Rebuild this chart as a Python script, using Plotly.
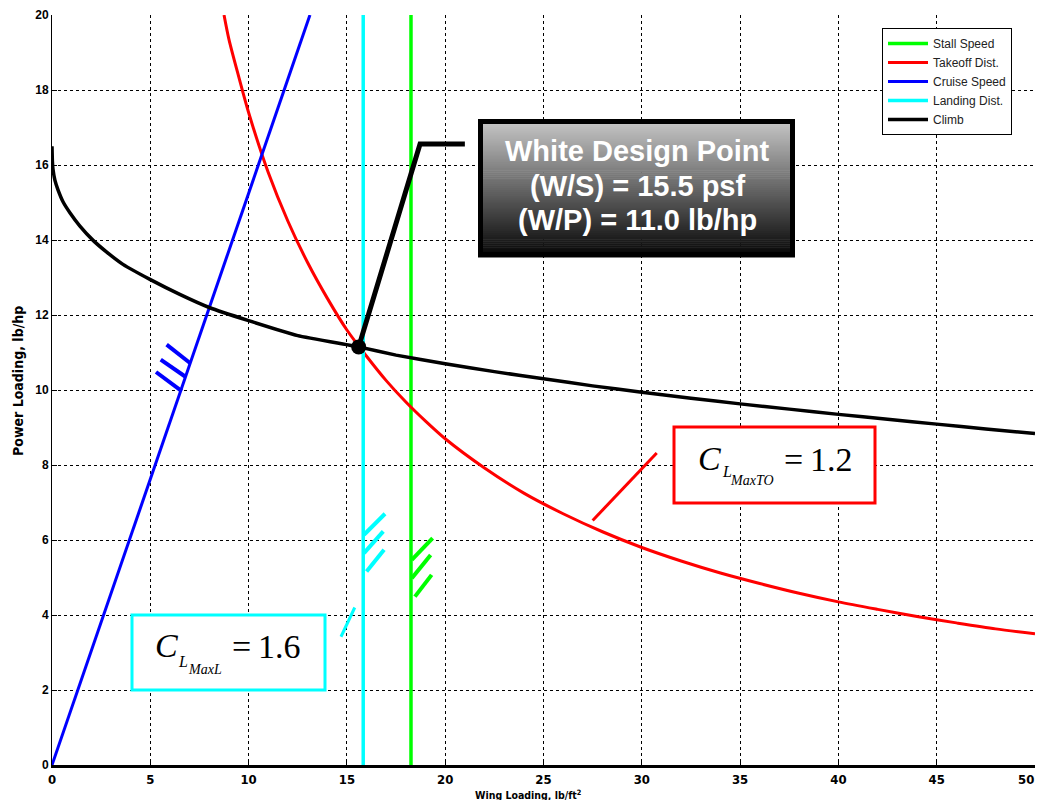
import plotly.graph_objects as go

# ---------------- data ----------------
stall_x = [18.26, 18.26]
stall_y = [0, 20]

takeoff_x = [8.75, 9, 9.5, 10, 11, 12, 13, 14, 15, 16, 17, 18, 19, 20, 22, 24, 26, 28, 30,
             32, 34, 36, 38, 40, 42, 44, 46, 48, 50]
takeoff_y = [20, 19.35, 18.35, 17.4, 15.8, 14.5, 13.4, 12.45, 11.6, 10.9, 10.25, 9.68, 9.17,
             8.7, 7.92, 7.25, 6.7, 6.22, 5.8, 5.44, 5.12, 4.84, 4.58, 4.35, 4.15, 3.96, 3.79,
             3.63, 3.5]

cruise_x = [0, 13.12]
cruise_y = [0, 20]

landing_x = [15.83, 15.83]
landing_y = [0, 20]

climb_x = [0, 0.02, 0.05, 0.15, 0.31, 0.56, 0.92, 1.42, 2.09, 2.8, 3.61, 4.98, 6.5, 8, 10,
           12.5, 15.6, 17.5, 20, 22.5, 25, 27.5, 30, 32.5, 35, 37.5, 40, 42.5, 45, 47.5, 50]
climb_y = [16.5, 16.1, 15.89, 15.59, 15.33, 15.02, 14.72, 14.37, 13.99, 13.67, 13.35, 12.95,
           12.55, 12.2, 11.85, 11.45, 11.15, 10.93, 10.7, 10.49, 10.3, 10.11, 9.94, 9.78, 9.63,
           9.49, 9.35, 9.22, 9.09, 8.96, 8.84]

design_x = [15.6]
design_y = [11.15]

x_ticks = [0, 5, 10, 15, 20, 25, 30, 35, 40, 45, 50]
y_ticks = [0, 2, 4, 6, 8, 10, 12, 14, 16, 18, 20]

# ---------------- layout geometry (page pixels) ----------------
OFF = 8                       # default body margin of the html page
W, H = 1044 - OFF, 808 - 2 * OFF
PL, PR, PT, PB = 52, 1035, 15, 765   # plot area in page pixels
PW, PH = PR - PL, PB - PT


def px(xp):
    return (xp - PL) / PW


def py(yp):
    return (PB - yp) / PH


GREEN = "#00ff00"
RED = "#ff0000"
BLUE = "#0000ff"
CYAN = "#00ffff"
BLACK = "#000000"

fig = go.Figure()

fig.add_trace(go.Scatter(x=stall_x, y=stall_y, mode="lines", name="Stall Speed",
                         line=dict(color=GREEN, width=3.5)))
fig.add_trace(go.Scatter(x=takeoff_x, y=takeoff_y, mode="lines", name="Takeoff Dist.",
                         line=dict(color=RED, width=3, shape="spline", smoothing=0.8)))
fig.add_trace(go.Scatter(x=cruise_x, y=cruise_y, mode="lines", name="Cruise Speed",
                         line=dict(color=BLUE, width=3)))
fig.add_trace(go.Scatter(x=landing_x, y=landing_y, mode="lines", name="Landing Dist.",
                         line=dict(color=CYAN, width=3.5)))
fig.add_trace(go.Scatter(x=climb_x, y=climb_y, mode="lines", name="Climb",
                         line=dict(color=BLACK, width=3.5, shape="spline", smoothing=0.4)))

# hatch marks (feasible side indicators)
hatches = [
    (BLUE, [(5.83, 11.21, 7.02, 10.72), (5.53, 10.81, 6.77, 10.36), (5.29, 10.48, 6.60, 9.97)]),
    (CYAN, [(15.87, 6.14, 16.94, 6.70), (15.87, 5.65, 16.85, 6.23), (16.0, 5.16, 16.89, 5.74)]),
    (GREEN, [(18.30, 5.47, 19.36, 6.05), (18.30, 4.98, 19.26, 5.60), (18.46, 4.49, 19.31, 5.07)]),
]
for col, segs in hatches:
    hx, hy = [], []
    for x0, y0, x1, y1 in segs:
        hx += [x0, x1, None]
        hy += [y0, y1, None]
    fig.add_trace(go.Scatter(x=hx, y=hy, mode="lines", showlegend=False, hoverinfo="skip",
                             line=dict(color=col, width=4)))

# leader lines
fig.add_trace(go.Scatter(x=[27.5, 30.76], y=[6.52, 8.32], mode="lines", showlegend=False,
                         hoverinfo="skip", line=dict(color=RED, width=3)))
fig.add_trace(go.Scatter(x=[14.7, 15.4], y=[3.42, 4.2], mode="lines", showlegend=False,
                         hoverinfo="skip", line=dict(color=CYAN, width=3)))
fig.add_trace(go.Scatter(x=[design_x[0], 18.72, 21.0], y=[design_y[0], 16.56, 16.56],
                         mode="lines", showlegend=False, hoverinfo="skip",
                         line=dict(color=BLACK, width=5)))
fig.add_trace(go.Scatter(x=design_x, y=design_y, mode="markers", showlegend=False,
                         marker=dict(color=BLACK, size=15)))

shapes = []
# gradient box for design point
bx0, by0, bx1, by1 = 478, 119, 795, 257
n = 70
for i in range(n):
    t = i / (n - 1)
    g = int(round(200 - t * 195))
    ya = by0 + (by1 - by0) * i / n
    yb = by0 + (by1 - by0) * (i + 1) / n + 0.6
    shapes.append(dict(type="rect", xref="paper", yref="paper", layer="above",
                       x0=px(bx0), x1=px(bx1), y0=py(ya), y1=py(yb),
                       fillcolor=f"rgb({g},{g},{g})", line=dict(width=0)))
shapes.append(dict(type="rect", xref="paper", yref="paper", layer="above",
                   x0=px(bx0 + 2.5), x1=px(bx1 - 2.5), y0=py(by0 + 2.5), y1=py(by1 - 2.5),
                   line=dict(color=BLACK, width=5)))
# red box
shapes.append(dict(type="rect", xref="paper", yref="paper", layer="above",
                   x0=px(674), x1=px(875), y0=py(427), y1=py(503),
                   fillcolor="white", line=dict(color=RED, width=3)))
# cyan box
shapes.append(dict(type="rect", xref="paper", yref="paper", layer="above",
                   x0=px(132), x1=px(325), y0=py(615), y1=py(690),
                   fillcolor="white", line=dict(color=CYAN, width=3)))

TIMES = "Liberation Serif, Times New Roman, serif"
NARROW = "Liberation Sans Narrow, DejaVu Sans Condensed, Arial Narrow, sans-serif"
XTICKFONT = dict(family=NARROW, size=13, color=BLACK, weight="bold")
BOXFONT = dict(family="Liberation Sans, Arial", size=29, color="white", weight="bold")
annots = [
    dict(x=px(637), y=py(151), text="White Design Point", font=BOXFONT),
    dict(x=px(637), y=py(186), text="(W/S) = 15.5 psf", font=BOXFONT),
    dict(x=px(637), y=py(220), text="(W/P) = 11.0 lb/hp", font=BOXFONT),
    # red box text
    dict(x=px(709), y=py(458), text="<i>C</i>", font=dict(family=TIMES, size=34, color=BLACK)),
    dict(x=px(727), y=py(471), text="<i>L</i>", font=dict(family=TIMES, size=16, color=BLACK)),
    dict(x=px(752), y=py(480), text="<i>MaxTO</i>", font=dict(family=TIMES, size=14, color=BLACK)),
    dict(x=px(818), y=py(460), text="=\u20091.2", font=dict(family=TIMES, size=34, color=BLACK)),
    # cyan box text
    dict(x=px(166), y=py(645), text="<i>C</i>", font=dict(family=TIMES, size=34, color=BLACK)),
    dict(x=px(183), y=py(661), text="<i>L</i>", font=dict(family=TIMES, size=16, color=BLACK)),
    dict(x=px(205), y=py(669), text="<i>MaxL</i>", font=dict(family=TIMES, size=14, color=BLACK)),
    dict(x=px(266), y=py(646), text="=\u20091.6", font=dict(family=TIMES, size=34, color=BLACK)),
    # axis titles
    dict(x=px(528), y=py(794), text="Wing Loading, lb/ft<sup>2</sup>",
         font=dict(family=NARROW, size=10.5, color=BLACK, weight="bold")),
    dict(x=px(18), y=py(381), text="Power Loading, lb/hp", textangle=-90,
         font=dict(family=NARROW, size=14, color=BLACK, weight="bold")),
]
for a in annots:
    a.update(xref="paper", yref="paper", showarrow=False, xanchor="center", yanchor="middle")

# last x tick label kept inside the visible page (right-aligned at the axis end)
x_ticktext = [str(v) for v in x_ticks]
last_label = x_ticktext[-1]
x_ticktext[-1] = ""
annots.append(dict(x=x_ticks[-1], xref="x", y=py(779), yref="paper", text=last_label,
                   showarrow=False, xanchor="right", yanchor="middle", xshift=1,
                   font=XTICKFONT))

TICKFONT = dict(family="Liberation Sans, Arial", size=12, color=BLACK, weight="bold")

fig.update_layout(
    width=W, height=H,
    margin=dict(l=PL - OFF, r=W - (PR - OFF), t=PT - OFF, b=H - (PB - OFF), pad=0,
                autoexpand=False),
    paper_bgcolor="white", plot_bgcolor="white",
    shapes=shapes, annotations=annots,
    showlegend=True,
    legend=dict(x=px(882), y=py(28), xanchor="left", yanchor="top",
                bgcolor="white", bordercolor=BLACK, borderwidth=1,
                font=dict(family="Liberation Sans, Arial", size=12, color="#222"),
                tracegroupgap=0, itemwidth=40),
    xaxis=dict(range=[0, 50], tickvals=x_ticks, ticktext=x_ticktext,
               automargin=False, ticklabeloverflow="allow",
               showgrid=True, gridcolor=BLACK, griddash="3px,3px", gridwidth=1,
               zeroline=False, showline=True, linecolor=BLACK, linewidth=3,
               ticks="inside", ticklen=5, tickcolor=BLACK,
               tickfont=XTICKFONT),
    yaxis=dict(range=[0, 20], tickvals=y_ticks, ticktext=[str(v) for v in y_ticks],
               automargin=False, ticklabeloverflow="allow",
               showgrid=True, gridcolor=BLACK, griddash="3px,3px", gridwidth=1,
               zeroline=False, showline=True, linecolor=BLACK, linewidth=1,
               ticks="inside", ticklen=5, tickcolor=BLACK,
               tickfont=TICKFONT),
)

fig.write_html("out.html")
